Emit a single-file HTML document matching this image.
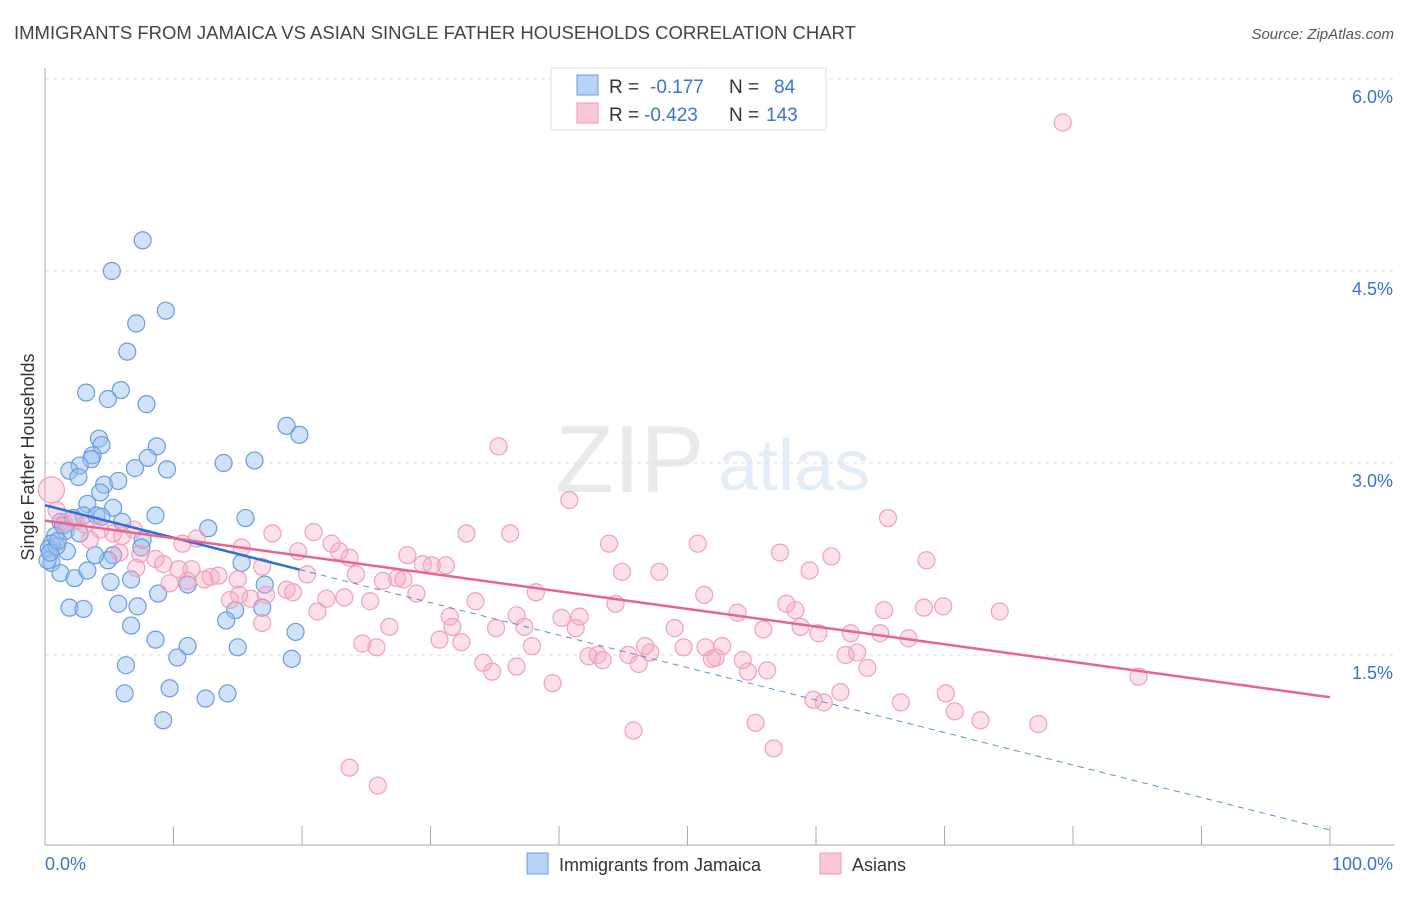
<!DOCTYPE html>
<html><head><meta charset="utf-8"><style>
body{margin:0;background:#fff;font-family:"Liberation Sans",sans-serif;}
svg text{font-family:"Liberation Sans",sans-serif;}
</style></head><body>
<svg id="chart" width="1406" height="892" xmlns="http://www.w3.org/2000/svg">
<text x="14" y="39" font-size="18.5" fill="#444">IMMIGRANTS FROM JAMAICA VS ASIAN SINGLE FATHER HOUSEHOLDS CORRELATION CHART</text>
<text x="1394" y="39" font-size="15" fill="#555" text-anchor="end" font-style="italic">Source: ZipAtlas.com</text>
<g opacity="0.18">
<text x="555" y="492" font-size="96" font-family="Liberation Serif" fill="#888">ZIP</text>
<text x="718" y="490" font-size="72" fill="#6a9be0">atlas</text>
</g>
<g id="grid"></g>
<g id="axes"></g>
<g id="blue"></g>
<g id="pink"></g>
<g id="trends"></g>
<g>
<rect x="551" y="68" width="275" height="62" fill="#fff" stroke="#ddd"/>
<rect x="577" y="75" width="21" height="20" fill="#b7d2f5" stroke="#6a9be0"/>
<rect x="577" y="103" width="21" height="20" fill="#f9c8d7" stroke="#ef9ab5"/>
<text x="609" y="93" font-size="19" fill="#333">R = </text><text x="650" y="93" font-size="19" fill="#3a73d0">-0.177</text>
<text x="729" y="93" font-size="19" fill="#333">N = </text><text x="774" y="93" font-size="19" fill="#3a73d0">84</text>
<text x="609" y="121" font-size="19" fill="#333">R = </text><text x="644" y="121" font-size="19" fill="#3a73d0">-0.423</text>
<text x="729" y="121" font-size="19" fill="#333">N = </text><text x="766" y="121" font-size="19" fill="#3a73d0">143</text>
</g>
<g>
<rect x="527" y="853" width="21" height="21" fill="#b7d2f5" stroke="#6a9be0"/>
<text x="559" y="871" font-size="18" fill="#333">Immigrants from Jamaica</text>
<rect x="820" y="853" width="21" height="21" fill="#f9c8d7" stroke="#ef9ab5"/>
<text x="852" y="871" font-size="18" fill="#333">Asians</text>
</g>
<text transform="translate(34,457) rotate(-90)" font-size="18" fill="#333" text-anchor="middle">Single Father Households</text>
</svg>
<script>
const yTicks=[1.5,3.0,4.5,6.0];
const yTickLabels=["1.5%","3.0%","4.5%","6.0%"];
const xTickLabels=["0.0%","100.0%"];
const blueX=[7.6,5.2,9.4,7.1,6.4,3.2,5.9,4.9,7.9,4.2,4.4,8.7,3.7,3.6,2.7,8.0,7.0,9.5,13.9,16.3,18.8,19.8,1.9,2.6,4.6,5.7,4.3,3.3,5.3,8.6,15.6,3.0,4.0,4.4,1.2,1.4,2.2,6.0,12.7,1.6,2.7,0.8,7.6,0.5,0.3,1.7,0.9,5.3,7.5,15.3,4.9,0.5,1.2,2.3,3.3,6.7,11.1,17.1,5.1,8.8,1.9,3.0,5.7,7.2,14.8,16.9,14.1,6.7,19.5,8.6,11.1,15.0,10.3,19.2,6.3,6.2,9.7,14.2,12.5,9.2,0.2,0.4,1.0,3.9];
const blueY=[4.74,4.50,4.19,4.09,3.87,3.55,3.57,3.50,3.46,3.19,3.14,3.13,3.06,3.03,2.98,3.04,2.96,2.95,3.00,3.02,3.29,3.22,2.94,2.89,2.83,2.86,2.77,2.68,2.65,2.59,2.57,2.59,2.59,2.58,2.54,2.51,2.57,2.54,2.49,2.47,2.45,2.43,2.40,2.37,2.33,2.31,2.35,2.28,2.34,2.22,2.24,2.22,2.14,2.10,2.16,2.09,2.05,2.05,2.07,1.98,1.87,1.86,1.90,1.88,1.85,1.87,1.77,1.73,1.68,1.62,1.57,1.56,1.48,1.47,1.42,1.20,1.24,1.20,1.16,0.99,2.24,2.30,2.39,2.28];
const pinkX=[79.2,35.3,40.8,65.6,0.5,0.9,1.5,2.4,3.1,4.3,5.3,6.0,6.9,3.5,5.8,7.4,8.6,10.7,11.8,15.3,17.7,19.7,20.9,22.3,22.9,23.7,28.2,29.4,30.1,31.2,32.8,36.2,43.9,50.8,57.2,61.2,68.6,44.9,47.8,59.5,7.1,9.2,10.4,11.4,12.9,13.5,16.9,20.4,24.2,26.3,27.4,27.9,9.7,11.1,12.4,15.0,15.1,18.8,19.3,21.9,23.3,25.3,28.9,33.5,38.2,44.4,51.3,57.7,58.4,65.3,68.4,69.9,74.3,14.4,16.0,17.2,21.2,31.5,36.7,40.2,41.6,53.9,16.9,26.8,31.7,35.1,37.3,41.3,55.9,49.0,58.8,60.2,62.7,65.0,67.2,24.7,25.8,30.7,32.4,37.9,42.3,46.7,47.1,49.7,51.4,52.7,63.2,43.0,43.4,45.4,52.2,54.3,62.3,46.2,36.7,34.8,34.1,51.9,64.0,85.1,39.5,54.7,56.2,59.8,61.9,70.1,66.6,60.6,70.8,72.8,55.3,45.8,77.3,56.7,23.7,25.9];
const pinkY=[5.66,3.13,2.71,2.57,2.79,2.63,2.53,2.55,2.52,2.48,2.45,2.43,2.48,2.40,2.30,2.29,2.25,2.37,2.41,2.34,2.45,2.31,2.46,2.37,2.31,2.26,2.28,2.21,2.20,2.20,2.45,2.45,2.37,2.37,2.30,2.27,2.24,2.15,2.15,2.16,2.18,2.21,2.17,2.17,2.11,2.12,2.19,2.13,2.13,2.08,2.10,2.09,2.06,2.08,2.09,2.09,1.97,2.01,1.99,1.94,1.95,1.92,1.98,1.92,1.99,1.90,1.97,1.90,1.85,1.85,1.87,1.88,1.84,1.93,1.94,1.97,1.84,1.80,1.81,1.79,1.80,1.83,1.75,1.72,1.72,1.71,1.72,1.71,1.70,1.71,1.72,1.67,1.67,1.67,1.63,1.59,1.56,1.62,1.60,1.57,1.49,1.57,1.52,1.56,1.56,1.57,1.52,1.50,1.46,1.50,1.48,1.46,1.50,1.43,1.41,1.37,1.44,1.47,1.40,1.33,1.28,1.37,1.38,1.15,1.21,1.20,1.13,1.13,1.06,0.99,0.97,0.91,0.96,0.77,0.62,0.48,0.22,1.46,1.50];
const trendIntercept=[2.67,2.55];
const trendSlope=[-0.02537,-0.0138];
const blueSolidEnd=19.8;
</script>
<script>
const NS="http://www.w3.org/2000/svg";
const X0=45,X1=1330,YB=847,PPY=128;
const sx=v=>X0+v*(X1-X0)/100, sy=v=>YB-v*PPY;
function mk(tag,attrs,parent){const e=document.createElementNS(NS,tag);for(const k in attrs)e.setAttribute(k,attrs[k]);parent.appendChild(e);return e;}
const grid=document.getElementById('grid'),axes=document.getElementById('axes');
yTicks.forEach((t,i)=>{
 const l=mk('line',{x1:X0,x2:1395,y1:sy(t),y2:sy(t),stroke:'#ddd','stroke-dasharray':'4,4'},grid);
 
 
 const tx=mk('text',{x:1393,y:sy(t)+24,'font-size':18,fill:'#3a73d0','text-anchor':'end'},axes);
 tx.textContent=yTickLabels[i];
 
 
});
mk('line',{x1:X0,x2:X0,y1:68,y2:845,stroke:'#aaa'},axes);
mk('line',{x1:X0,x2:1395,y1:845,y2:845,stroke:'#aaa'},axes);
for(let i=1;i<=10;i++){
 const t=mk('line',{x1:sx(i*10),x2:sx(i*10),y1:826,y2:845,stroke:'#aaa'},axes);
 
 
}
const xl0=mk('text',{x:45,y:870,'font-size':18,fill:'#3a73d0'},axes);xl0.textContent=xTickLabels[0];


const xl1=mk('text',{x:1393,y:870,'font-size':18,fill:'#3a73d0','text-anchor':'end'},axes);xl1.textContent=xTickLabels[1];


const bg=document.getElementById('blue'),pg=document.getElementById('pink');
blueX.forEach((v,i)=>{
 const c=mk('circle',{cx:sx(v),cy:sy(blueY[i]),r:8.5,fill:'rgba(150,190,240,0.45)',stroke:'#6a9be0','stroke-width':1.2},bg);
 
 
});
pinkX.forEach((v,i)=>{
 const c=mk('circle',{cx:sx(v),cy:sy(pinkY[i]),r:i===4?13:8.5,fill:'rgba(245,165,192,0.35)',stroke:'#f0a0bb','stroke-width':1.2},pg);
 
 
});
const tg=document.getElementById('trends');
const f=(k,x)=>trendIntercept[k]+trendSlope[k]*x;
const bs=mk('line',{x1:sx(0),y1:sy(f(0,0)),x2:sx(blueSolidEnd),y2:sy(f(0,blueSolidEnd)),stroke:'#2f6fd6','stroke-width':2.5},tg);


const bd=mk('line',{x1:sx(blueSolidEnd),y1:sy(f(0,blueSolidEnd)),x2:sx(100),y2:sy(f(0,100)),stroke:'#5a8fdc','stroke-width':1,'stroke-dasharray':'6,5'},tg);


const pl=mk('line',{x1:sx(0),y1:sy(f(1,0)),x2:sx(100),y2:sy(f(1,100)),stroke:'#e8648f','stroke-width':2.5},tg);


</script>
</body></html>
